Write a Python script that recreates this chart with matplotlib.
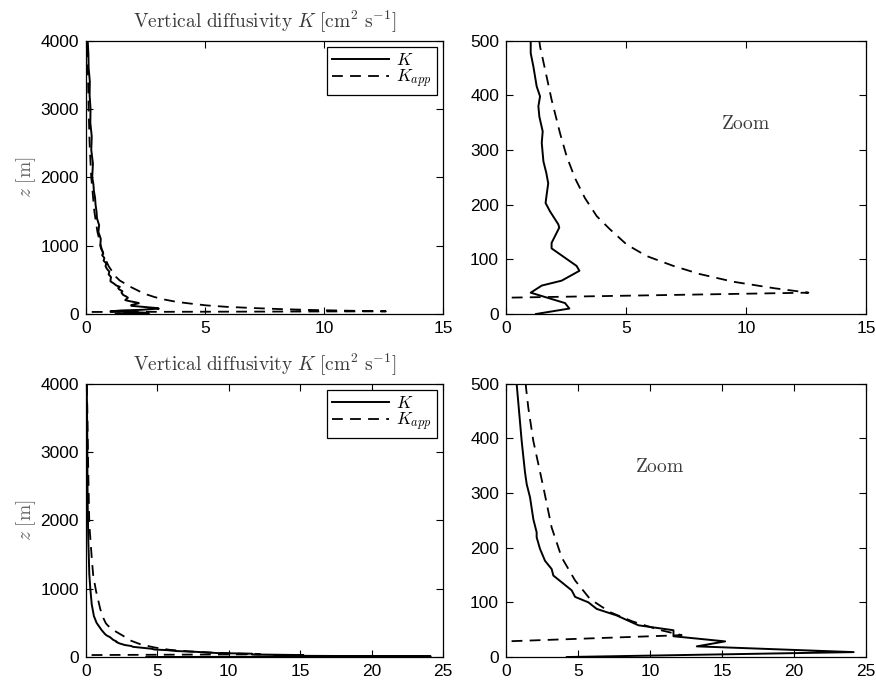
import matplotlib
matplotlib.use("Agg")
import matplotlib.pyplot as plt
import numpy as np

plt.rcParams["font.family"] = ["Liberation Sans", "DejaVu Sans"]
plt.rcParams["mathtext.fontset"] = "cm"

# Case 1: diffusivity profile K and its approximation K_app
z_k1 = [0, 10, 20, 39, 52, 61, 79, 88, 120, 130, 158, 164, 188, 203, 220, 239,
        258, 279, 313, 334, 361, 380, 398, 416, 453, 477, 500, 540, 580, 620,
        660, 700, 740, 780, 820, 860, 900, 950, 1000, 1100, 1200, 1300, 1400,
        1500, 1600, 1700, 1800, 1900, 2000, 2200, 2400, 2600, 2800, 3000, 3200,
        3400, 3600, 3800, 4000]
k1 = [1.25, 2.64, 2.46, 1.03, 1.49, 2.32, 3.06, 2.94, 1.90, 1.90, 2.22, 2.18,
      1.83, 1.65, 1.70, 1.76, 1.68, 1.56, 1.49, 1.53, 1.39, 1.35, 1.42, 1.28,
      1.14, 1.03, 1.03, 1.05, 0.95, 0.98, 0.88, 0.82, 0.85, 0.74, 0.77, 0.68,
      0.72, 0.64, 0.60, 0.62, 0.52, 0.55, 0.46, 0.44, 0.40, 0.38, 0.33, 0.31,
      0.26, 0.29, 0.22, 0.24, 0.18, 0.19, 0.15, 0.16, 0.11, 0.10, 0.07]

z_app1 = [30, 39, 47, 59, 73, 88, 106, 127, 155, 179, 212, 248, 288, 331, 392,
          447, 489, 546, 700, 850, 1000, 1200, 1500, 2000, 2500, 3000, 3500,
          4000]
k_app1 = [0.24, 12.6, 11.2, 9.47, 8.08, 6.97, 5.86, 5.03, 4.33, 3.78, 3.29,
          2.88, 2.53, 2.25, 1.9, 1.63, 1.42, 1.25, 0.95, 0.75, 0.62, 0.48,
          0.35, 0.22, 0.15, 0.11, 0.08, 0.06]

# Case 2
z_k2 = [0, 9, 19.5, 28.6, 38, 49, 58, 76, 88, 100, 110, 122, 149, 161, 176,
        198, 219, 228, 252, 292, 316, 338, 395, 443, 500, 600, 771, 1000, 1210,
        1500, 1698, 2185, 2600, 3160, 3600, 4000]
k2 = [4.22, 24.14, 13.25, 15.22, 11.63, 11.63, 9.2, 7.69, 6.30, 5.72, 4.8,
      4.56, 3.29, 3.17, 2.71, 2.36, 2.13, 2.13, 1.9, 1.67, 1.44, 1.32, 1.09,
      0.93, 0.74, 0.55, 0.40, 0.30, 0.23, 0.19, 0.16, 0.12, 0.10, 0.09, 0.07,
      0.05]

z_app2 = [29, 40, 50, 65, 82, 106, 140, 182, 237, 310, 395, 456, 493, 576, 700,
          966, 1200, 1454, 1941, 2673, 3200, 3649, 4000]
k_app2 = [0.39, 12.2, 10.6, 8.8, 7.23, 5.84, 4.8, 3.87, 3.17, 2.6, 1.9, 1.55,
          1.39, 1.2, 1.0, 0.7, 0.5, 0.40, 0.23, 0.16, 0.12, 0.09, 0.05]

xmax = [15, 25]
title = r"$\mathrm{Vertical\ diffusivity}\ K\ [\mathrm{cm}^2\ \mathrm{s}^{-1}]$"
text_grey = "#3a3a3a"


def _matlab_style(ax):
    ax.tick_params(direction="in", top=True, right=True, length=5,
                   width=0.8, labelsize=12.5, pad=5)
    for sp in ax.spines.values():
        sp.set_linewidth(0.9)


fig = plt.figure(figsize=(8.76, 6.81), dpi=100)

rows = [(0.5389, z_k1, k1, z_app1, k_app1),
        (0.0352, z_k2, k2, z_app2, k_app2)]

for r, (bottom, zk, kk, za, ka) in enumerate(rows):
    ax_full = fig.add_axes([0.0982, bottom, 0.4075, 0.4015])
    ax_zoom = fig.add_axes([0.5776, bottom, 0.4110, 0.4015])

    for ax in (ax_full, ax_zoom):
        ax.plot(kk, zk, color="black", lw=1.4, label=r"$K$")
        ax.plot(ka, za, color="black", lw=1.3, linestyle=(0, (6, 4)),
                label=r"$K_{app}$")
        ax.set_xlim(0, xmax[r])
        ax.set_xticks(np.arange(0, xmax[r] + 1, 5))
        _matlab_style(ax)

    ax_full.set_ylim(0, 4000)
    ax_full.set_yticks(np.arange(0, 4001, 1000))
    ax_full.set_title(title, fontsize=14, color=text_grey, pad=9)
    ax_full.set_ylabel(r"$z\ [\mathrm{m}]$", fontsize=14, color="#666666",
                       labelpad=2)
    ax_full.legend(loc="upper right", fontsize=12.5, fancybox=False,
                   edgecolor="black", framealpha=1, handlelength=3.3,
                   borderaxespad=0.35, borderpad=0.3, labelspacing=0.0,
                   handletextpad=0.4)
    ax_full.get_legend().get_frame().set_linewidth(0.9)

    ax_zoom.set_ylim(0, 500)
    ax_zoom.set_yticks(np.arange(0, 501, 100))
    zoom_x = [10.0, 10.7][r]
    ax_zoom.text(zoom_x, 348, r"$\mathrm{Zoom}$", fontsize=14,
                 color=text_grey, ha="center", va="center")

fig.savefig("out.png", dpi=100)
